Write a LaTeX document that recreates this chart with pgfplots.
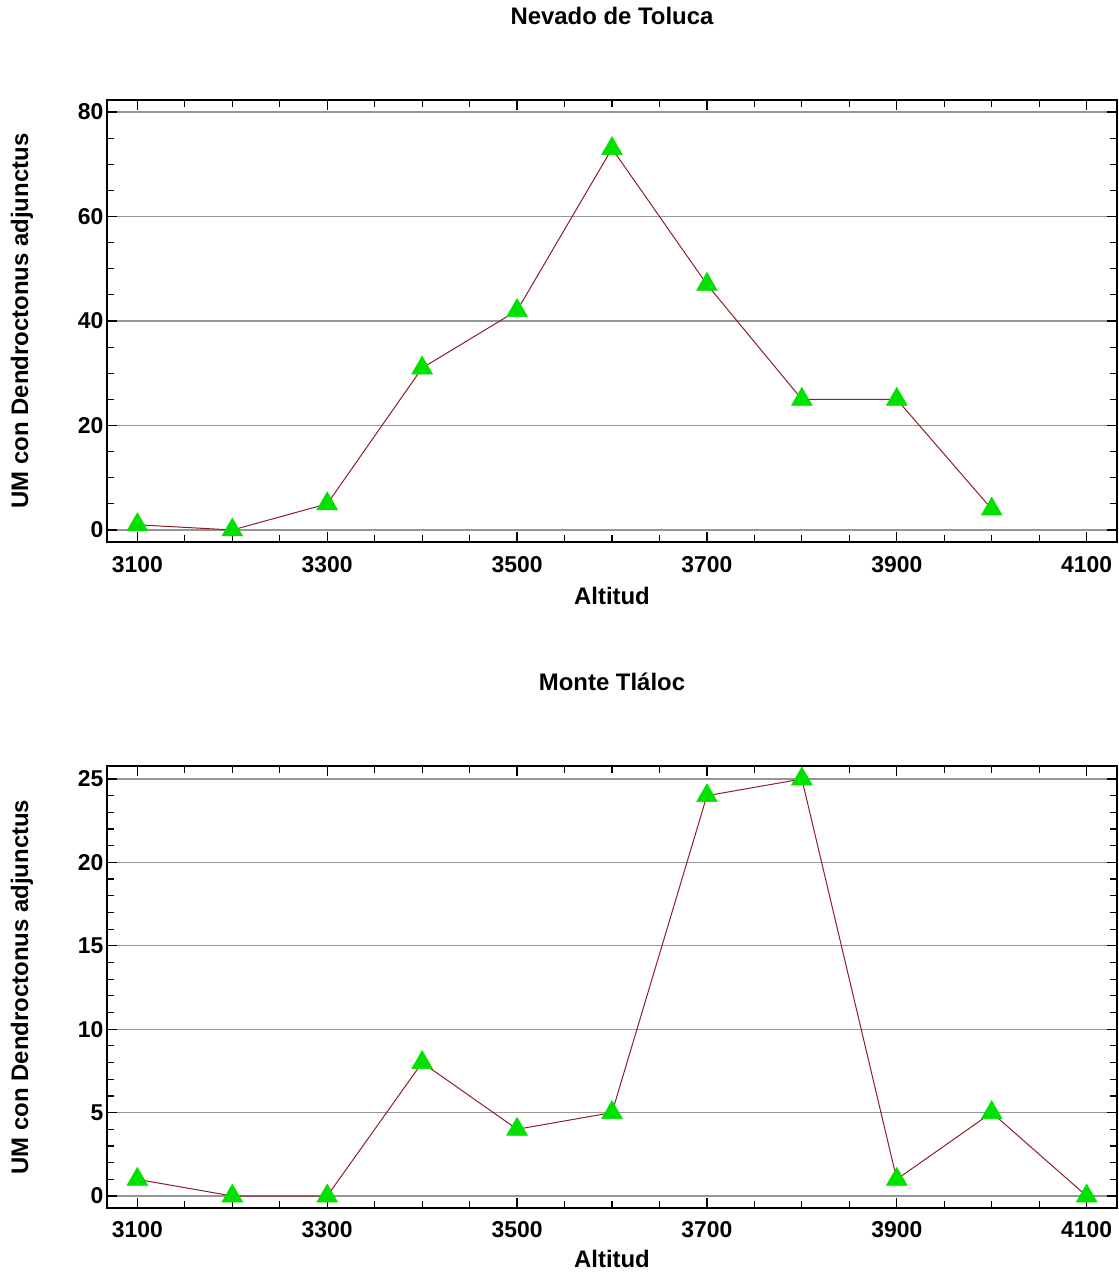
\documentclass[border=0pt]{standalone}
\usepackage{fontspec}
\setmainfont{Liberation Sans}
\usepackage{pgfplots}
\pgfplotsset{compat=1.18}
\definecolor{linered}{RGB}{140,30,40}
\definecolor{markgreen}{RGB}{0,225,0}
\definecolor{gridgray}{RGB}{150,150,150}
\pgfplotstableread{
x y
3100 1
3200 0
3300 5
3400 31
3500 42
3600 73
3700 47
3800 25
3900 25
4000 4
}\toluca
\pgfplotstableread{
x y
3100 1
3200 0
3300 0
3400 8
3500 4
3600 5
3700 24
3800 25
3900 1
4000 5
4100 0
}\tlaloc
\pgfplotsset{
  myaxis/.style={
    scale only axis,
    width=1010bp, height=442bp,
    xmin=3068, xmax=4132,
    xtick={3100,3300,...,4100},
    minor x tick num=3,
    scaled ticks=false,
    /pgf/number format/1000 sep={},
    /pgf/number format/assume math mode=true,
    tick label style={font=\fontsize{23}{27}\selectfont\bfseries},
    xticklabel style={yshift=-11bp},
    label style={font=\fontsize{24}{28}\selectfont\bfseries},
    title style={font=\fontsize{24}{28}\selectfont\bfseries, at={(0.5,1)}, anchor=center, yshift=78bp},
    xlabel style={at={(0.5,0)}, anchor=center, yshift=-54bp},
    ylabel style={at={(0,0.5)}, anchor=center, yshift=85bp},
    axis line style={line width=1.4bp},
    tick style={line width=1.2bp, black},
    major tick length=10bp,
    minor tick length=7bp,
    ymajorgrids,
    major grid style={gridgray, line width=1.2bp},
    xlabel={Altitud},
    ylabel={UM con Dendroctonus adjunctus},
  },
  myplot/.style={color=linered, line width=1bp, mark=triangle*,
      mark size=12bp, mark options={fill=markgreen, draw=markgreen, line width=0.5bp}},
}
\begin{document}
\begin{tikzpicture}
\begin{axis}[myaxis, at={(0,0)}, anchor=north west,
  ymin=-2.3, ymax=82.3, ytick={0,20,...,80}, minor y tick num=3,
  title={Nevado de Toluca}]
\addplot[myplot] table[x=x,y=y] {\toluca};
\end{axis}
\begin{axis}[myaxis, at={(0,-666bp)}, anchor=north west,
  ymin=-0.72, ymax=25.78, ytick={0,5,...,25}, minor y tick num=4,
  xlabel style={yshift=3bp}, xticklabel style={yshift=1bp},
  title={Monte Tláloc}]
\addplot[myplot] table[x=x,y=y] {\tlaloc};
\end{axis}
\path (-107bp,100bp) rectangle (1012bp,-1172bp);
\end{tikzpicture}
\end{document}
